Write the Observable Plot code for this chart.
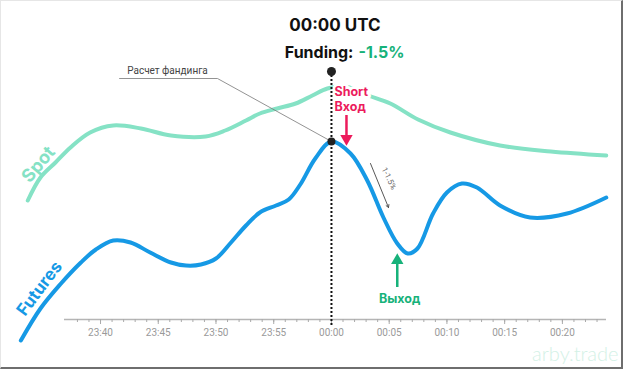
<!DOCTYPE html>
<html>
<head>
<meta charset="utf-8">
<script src="https://cdn.jsdelivr.net/npm/d3@7"></script>
<script src="https://cdn.jsdelivr.net/npm/@observablehq/plot@0.6"></script>
<style>
  html, body { margin: 0; padding: 0; background: #fff; }
  #wrap { position: relative; width: 623px; height: 369px; overflow: hidden; }
  #frame { position: absolute; left: 0; top: 0; width: 623px; height: 369px; box-sizing: border-box;
           border-left: 1px solid #e6e6e6; border-top: 1px solid #e6e6e6;
           border-right: 2px solid #6e6e6e; border-bottom: 2px solid #6e6e6e; pointer-events: none; }
  #chart svg [aria-label="x-axis tick"] { stroke: #aaa; }
  #chart svg [aria-label="x-axis tick label"] { fill: #9a9a9a; }
</style>
</head>
<body>
<div id="wrap"><div id="chart"></div><div id="frame"></div></div>
<script>
// ---- Data (minutes relative to 00:00 UTC, price in arbitrary units) ----
const futuresTime  = [-26.9, -25.2, -23.5, -21.7, -20.4, -18.9, -17.4, -15.7, -13.9, -12.6, -11.3, -10.0, -8.7, -7.4, -6.2, -4.8, -3.7, -2.7, -1.4, 0.0, 1.65, 3.1, 4.5, 5.7, 6.6, 7.45, 8.8, 10.0, 11.3, 12.6, 14.6, 17.2, 20.4, 23.8];
const futuresValue = [-2.1, 1.1, 3.5, 5.7, 7.0, 7.9, 7.7, 6.7, 5.7, 5.4, 5.5, 6.1, 7.7, 9.4, 10.7, 11.4, 12.0, 13.5, 16.1, 17.8, 16.6, 13.9, 10.2, 7.6, 6.6, 7.1, 10.6, 12.7, 13.6, 13.2, 11.4, 10.2, 10.6, 12.2];
const spotTime  = [-26.3, -25.2, -23.9, -22.6, -20.9, -18.9, -16.5, -13.9, -10.9, -9.2, -7.4, -6.2, -4.7, -3.1, -1.65, -0.35, 1.2, 3.2, 5.1, 7.5, 10.3, 14.6, 19.0, 23.8];
const spotValue = [11.9, 14.2, 15.7, 17.2, 18.7, 19.4, 19.1, 18.4, 18.3, 18.9, 19.9, 20.6, 21.1, 21.6, 22.4, 23.1, 23.3, 22.4, 21.6, 20.0, 18.7, 17.4, 16.8, 16.4];

const tickMinutes = [-20, -15, -10, -5, 0, 5, 10, 15, 20];
const tickLabels  = ["23:40", "23:45", "23:50", "23:55", "00:00", "00:05", "00:10", "00:15", "00:20"];
const minorTicks  = d3.range(-22, 24);

const fundingTime = 0;
const fundingRate = "-1.5%";
const titleText = "00:00 UTC";
const fundingLabel = "Funding:";
const calcLabel = "Расчет фандинга";
const entryLabel = "Short\nВход";
const exitLabel = "Выход";
const moveLabel = "1-1.5%";
const watermark = "arby.trade";

const futures = futuresTime.map((t, i) => ({t, v: futuresValue[i]}));
const spot = spotTime.map((t, i) => ({t, v: spotValue[i]}));
const fundingValue = futuresValue[futuresTime.indexOf(fundingTime)];
const exitPoint = futures.slice(futuresTime.indexOf(fundingTime)).reduce((a, b) => (b.v < a.v ? b : a));
const labelByMinute = new Map(tickMinutes.map((m, i) => [m, tickLabels[i]]));

const BLUE = "#1699e5", MINT = "#85e2c5", RED = "#ec1b5c", GREEN = "#17b27a";
const BOLD = "Inter, 'Noto Sans', sans-serif";

const chart = Plot.plot({
  width: 623, height: 369,
  marginLeft: 64, marginRight: 17, marginTop: 0, marginBottom: 50,
  x: {domain: [-23.12, 23.82]},
  y: {domain: [0, 31.9], axis: null},
  style: {fontFamily: "Roboto, sans-serif", fontSize: "10px", background: "white", overflow: "visible"},
  marks: [
    // axis
    Plot.ruleY([0], {stroke: "#b5b5b5", strokeWidth: 1.5}),
    Plot.ruleX(minorTicks, {y1: 0, y2: -0.3, stroke: "#aaa", strokeWidth: 1}),
    Plot.axisX({ticks: tickMinutes, tickFormat: d => labelByMinute.get(d), tickSize: 5, tickPadding: 4, label: null, fontSize: 10}),

    // series
    Plot.line(spot, {x: "t", y: "v", stroke: MINT, strokeWidth: 4, curve: "catmull-rom"}),
    Plot.line(futures, {x: "t", y: "v", stroke: BLUE, strokeWidth: 4, curve: "catmull-rom"}),

    // series labels
    Plot.text([{t: -25.37, v: 15.5}], {x: "t", y: "v", text: () => "Spot", rotate: -50, fill: MINT, fontSize: 18, fontWeight: 700, fontFamily: BOLD}),
    Plot.text([{t: -25.28, v: 3.1}], {x: "t", y: "v", text: () => "Futures", rotate: -53, fill: BLUE, fontSize: 17, fontWeight: 700, fontFamily: BOLD}),

    // funding calculation leader
    Plot.line([{t: -18.35, v: 24.1}, {t: -9.87, v: 24.1}, {t: fundingTime, v: fundingValue}], {x: "t", y: "v", stroke: "#777", strokeWidth: 0.8}),
    Plot.text([{t: -14.2, v: 24.6}], {x: "t", y: "v", text: () => calcLabel, fill: "#444", fontSize: 10, lineAnchor: "bottom"}),

    // Short / entry label with white halo over spot line
    Plot.text([{t: 0.26, v: 20.9}], {x: "t", y: "v", text: () => entryLabel, textAnchor: "start", lineAnchor: "bottom", lineHeight: 1.2,
      fill: RED, stroke: "white", strokeWidth: 6, fontSize: 12.5, fontWeight: 700, fontFamily: BOLD}),

    // funding time vertical dotted line
    Plot.ruleX([fundingTime], {y1: -0.6, y2: 24.8, stroke: "#111", strokeWidth: 2, strokeDasharray: "2,2"}),
    Plot.dot([{t: fundingTime, v: 24.8}], {x: "t", y: "v", r: 4.5, fill: "#222"}),
    Plot.dot([{t: fundingTime, v: fundingValue}], {x: "t", y: "v", r: 4, fill: "#222"}),

    // entry arrow (red)
    Plot.ruleX([1.3], {y1: 20.4, y2: 18.3, stroke: RED, strokeWidth: 2.5}),
    Plot.dot([{t: 1.3, v: 18.1}], {x: "t", y: "v", symbol: "triangle", r: 4.6, rotate: 180, fill: RED}),

    // exit arrow (green)
    Plot.ruleX([exitPoint.t - 0.9], {y1: 3.2, y2: 5.8, stroke: GREEN, strokeWidth: 2.5}),
    Plot.dot([{t: exitPoint.t - 0.9, v: 5.9}], {x: "t", y: "v", symbol: "triangle", r: 4.6, fill: GREEN}),
    Plot.text([{t: exitPoint.t - 0.7, v: 1.7}], {x: "t", y: "v", text: () => exitLabel, lineAnchor: "bottom", fill: GREEN, fontSize: 12.5, fontWeight: 700, fontFamily: BOLD}),

    // drop arrow with percent
    Plot.arrow([{x1: 3.38, y1: 15.6, x2: 4.94, y2: 11.2}], {x1: "x1", y1: "y1", x2: "x2", y2: "y2", stroke: "#444", strokeWidth: 0.9, headLength: 5}),
    Plot.text([{t: 4.98, v: 14.1}], {x: "t", y: "v", text: () => moveLabel, rotate: 64, fill: "#666", fontSize: 8}),

    // titles
    Plot.text([{t: fundingTime + 0.3, v: 28.9}], {x: "t", y: "v", text: () => titleText, lineAnchor: "bottom", fill: "#111", fontSize: 17, fontWeight: 700, fontFamily: BOLD}),
    Plot.text([{t: fundingTime + 1.9, v: 26.2}], {x: "t", y: "v", text: () => fundingLabel, textAnchor: "end", lineAnchor: "bottom", fill: "#111", fontSize: 16, fontWeight: 700, fontFamily: BOLD}),
    Plot.text([{t: fundingTime + 2.34, v: 26.2}], {x: "t", y: "v", text: () => fundingRate, textAnchor: "start", lineAnchor: "bottom", fill: GREEN, fontSize: 16, fontWeight: 700, fontFamily: BOLD}),

    // watermark
    Plot.text([watermark], {text: d => d, frameAnchor: "bottom-right", textAnchor: "end", lineAnchor: "bottom", dx: 12, dy: 41,
      fill: "#d3f1e6", fontSize: 20, fontWeight: 300, fontFamily: "Lato, sans-serif"})
  ]
});
document.getElementById("chart").appendChild(chart);
</script>
</body>
</html>
